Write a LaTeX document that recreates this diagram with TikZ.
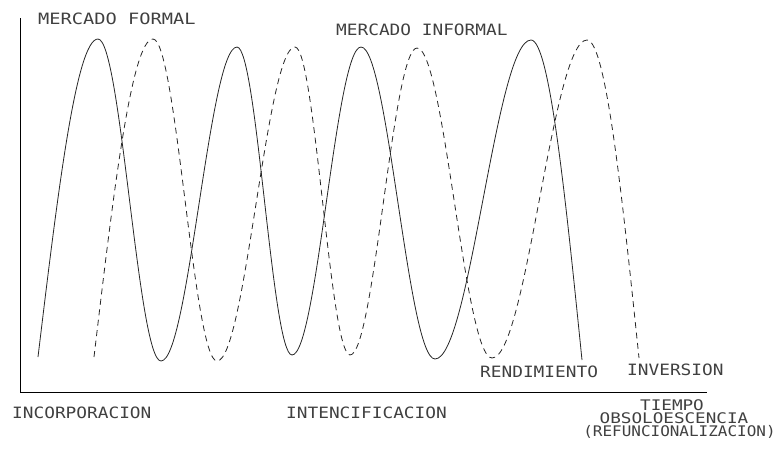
\documentclass[tikz,border=0pt]{standalone}
\usepackage{fontspec}
\usetikzlibrary{calc}
\newfontfamily\cadfont[FakeStretch=1.14]{DejaVu Sans Mono}
\begin{document}
\begin{tikzpicture}[x=1pt,y=-1pt,
  lbl/.style={inner sep=0pt, font=\cadfont\fontsize{15.6}{16}\selectfont, text=black!75},
  stack/.style={lbl, anchor=base, font=\cadfont\fontsize{14.6}{15}\selectfont},
  axis/.style={line width=0.9pt, black},
  formal/.style={line width=0.8pt, black!85},
  informal/.style={line width=0.8pt, black!85, dash pattern=on 6pt off 4.5pt}]
\useasboundingbox (0,0) rectangle (779,448);
% axes
\coordinate (ytop) at (20.5,18);
\coordinate (orig) at (20.5,392);
\coordinate (xend) at (707,392);
\draw[axis] (ytop) -- (orig) -- (xend);
% solid curve (rendimiento / mercado formal)
\coordinate (s0) at (38,357);
\coordinate (s1) at (98,39);
\coordinate (s2) at (161,361);
\coordinate (s3) at (237,47);
\coordinate (s4) at (292,355);
\coordinate (s5) at (361,47);
\coordinate (s6) at (435,359);
\coordinate (s7) at (531,40);
\coordinate (s8) at (582,360);
\draw[formal] (s0) sin (s1)
  cos ($(s1)!0.5!(s2)$) sin (s2)
  cos ($(s2)!0.5!(s3)$) sin (s3)
  cos ($(s3)!0.5!(s4)$) sin (s4)
  cos ($(s4)!0.5!(s5)$) sin (s5)
  cos ($(s5)!0.5!(s6)$) sin (s6)
  cos ($(s6)!0.5!(s7)$) sin (s7)
  cos (s8);
% dashed curve (inversion / mercado informal)
\coordinate (d0) at (94,357);
\coordinate (d1) at (153,39);
\coordinate (d2) at (217,361);
\coordinate (d3) at (295,47);
\coordinate (d4) at (350,355);
\coordinate (d5) at (417,48);
\coordinate (d6) at (492,358);
\coordinate (d7) at (587,40);
\coordinate (d8) at (639,358);
\draw[informal] (d0) sin (d1)
  cos ($(d1)!0.5!(d2)$) sin (d2)
  cos ($(d2)!0.5!(d3)$) sin (d3)
  cos ($(d3)!0.5!(d4)$) sin (d4)
  cos ($(d4)!0.5!(d5)$) sin (d5)
  cos ($(d5)!0.5!(d6)$) sin (d6)
  cos ($(d6)!0.5!(d7)$) sin (d7)
  cos (d8);
% labels
\node[lbl, anchor=base west] (mf) at (38,24) {\scalebox{1.05}[1]{MERCADO FORMAL}};
\node[lbl, anchor=base west] (mi) at (336,35) {MERCADO INFORMAL};
\node[lbl, anchor=base west] (inc) at (12,418) {INCORPORACION};
\node[lbl, anchor=base west] (int) at (286,418) {INTENCIFICACION};
\node[lbl, anchor=base west] (ren) at (480,377) {RENDIMIENTO};
\node[lbl, anchor=base west] (inv) at (627,375) {INVERSION};
\node[stack] (tie) at (672,410.5) {\scalebox{1.06}[1]{TIEMPO}};
\node[stack] (obs) at (674,423.5) {\scalebox{1.06}[1]{OBSOLOESCENCIA}};
\node[stack] (ref) at (679.5,436.5) {\scalebox{0.96}[1]{(REFUNCIONALIZACION)}};
\end{tikzpicture}
\end{document}
